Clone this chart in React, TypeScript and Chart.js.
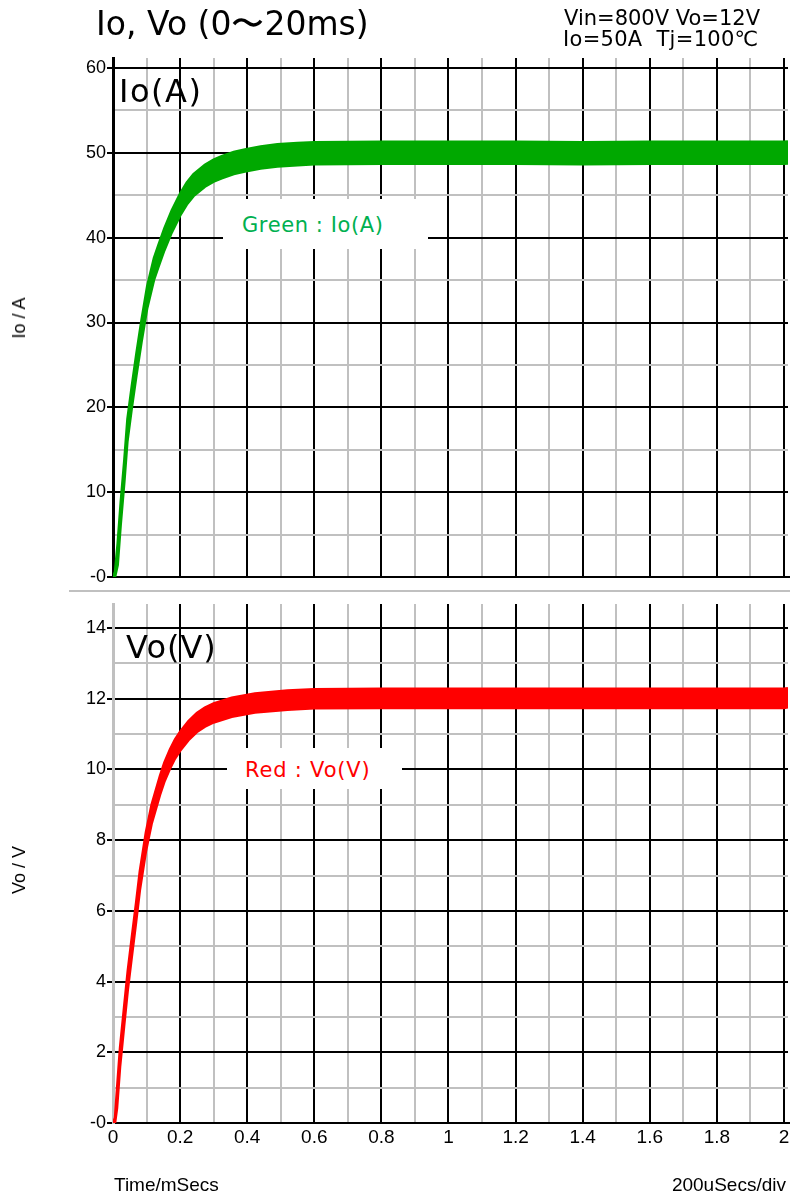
import React, { useEffect, useRef } from 'react';
import { Chart, registerables } from 'chart.js';

Chart.register(...registerables);

// ---------- data ----------
const xMajorValues = [0, 0.2, 0.4, 0.6, 0.8, 1.0, 1.2, 1.4, 1.6, 1.8, 2.0];
const xMajorLabels = ['0', '0.2', '0.4', '0.6', '0.8', '1', '1.2', '1.4', '1.6', '1.8', '2'];
const xMinorValues = [0.1, 0.3, 0.5, 0.7, 0.9, 1.1, 1.3, 1.5, 1.7, 1.9];

const ioMajorValues = [0, 10, 20, 30, 40, 50, 60];
const ioMajorLabels = ['-0', '10', '20', '30', '40', '50', '60'];
const ioMinorValues = [5, 15, 25, 35, 45, 55];

const voMajorValues = [0, 2, 4, 6, 8, 10, 12, 14];
const voMajorLabels = ['-0', '2', '4', '6', '8', '10', '12', '14'];
const voMinorValues = [1, 3, 5, 7, 9, 11, 13];

// Io (A): time in ms, upper / lower edges of the ripple band
const tIo = [0, 0.006, 0.014, 0.023, 0.034, 0.043, 0.056, 0.07, 0.085, 0.102, 0.122, 0.135, 0.153, 0.175, 0.2, 0.22, 0.24, 0.274, 0.3, 0.324, 0.36, 0.393, 0.44, 0.49, 0.55, 0.6, 0.8, 1.0, 1.2, 1.4, 1.6, 1.8, 2.0, 2.012];
const ioUpper = [0, 0.6, 4.0, 8.8, 13.9, 18.6, 22.5, 26.4, 30.3, 34.3, 37.6, 39.1, 41.1, 43.2, 45.2, 46.5, 47.5, 48.6, 49.2, 49.6, 50.1, 50.4, 50.75, 51.0, 51.15, 51.25, 51.3, 51.3, 51.3, 51.25, 51.3, 51.3, 51.3, 51.35];
const ioLower = [0, 0, 1.4, 6.2, 11.3, 16.0, 19.9, 23.8, 27.7, 31.7, 35.0, 36.5, 38.5, 40.6, 42.6, 43.9, 44.9, 46.0, 46.6, 47.0, 47.5, 47.8, 48.15, 48.4, 48.55, 48.65, 48.7, 48.7, 48.7, 48.65, 48.7, 48.7, 48.7, 48.75];

// Vo (V)
const tVo = [0, 0.006, 0.012, 0.021, 0.033, 0.044, 0.056, 0.069, 0.08, 0.098, 0.115, 0.14, 0.153, 0.17, 0.185, 0.2, 0.225, 0.25, 0.274, 0.3, 0.354, 0.423, 0.52, 0.6, 0.8, 1.0, 1.2, 1.4, 1.6, 1.8, 2.0, 2.012];
const voUpper = [0, 0.15, 0.96, 2.13, 3.27, 4.3, 5.24, 6.24, 7.12, 8.22, 9.0, 9.82, 10.19, 10.57, 10.85, 11.07, 11.37, 11.6, 11.75, 11.87, 12.03, 12.15, 12.23, 12.27, 12.28, 12.28, 12.28, 12.28, 12.28, 12.28, 12.28, 12.3];
const voLower = [0, 0, 0.42, 1.59, 2.73, 3.76, 4.7, 5.7, 6.58, 7.68, 8.46, 9.28, 9.65, 10.03, 10.31, 10.53, 10.83, 11.06, 11.21, 11.33, 11.49, 11.61, 11.69, 11.73, 11.74, 11.74, 11.74, 11.74, 11.74, 11.74, 11.74, 11.76];

const GREEN = '#00a800';
const RED = '#ff0000';
const GRID_MINOR = '#c0c0c0';
const TICK_FONT = 'Liberation Sans, Arial, sans-serif';
const TEXT_FONT = 'DejaVu Sans, Verdana, sans-serif';

function pts(t: number[], v: number[]) {
  return t.map((x, i) => ({ x, y: v[i] }));
}

function buildConfig(opts: {
  t: number[];
  upper: number[];
  lower: number[];
  color: string;
  yMax: number;
  major: number[];
  labels: string[];
  minor: number[];
  axisColor: string;
  showX: boolean;
  xHeight: number;
  padTop: number;
}): any {
  const allX = [...xMajorValues, ...xMinorValues].sort((a, b) => a - b);
  const allY = [...opts.major, ...opts.minor].sort((a, b) => a - b);
  return {
    type: 'line',
    data: {
      datasets: [
        {
          data: pts(opts.t, opts.upper),
          borderColor: opts.color,
          backgroundColor: opts.color,
          borderWidth: 2.5,
          pointRadius: 0,
          fill: '+1',
          tension: 0,
        },
        {
          data: pts(opts.t, opts.lower),
          borderColor: opts.color,
          backgroundColor: opts.color,
          borderWidth: 2.5,
          pointRadius: 0,
          fill: false,
          tension: 0,
        },
      ],
    },
    options: {
      responsive: false,
      animation: false,
      devicePixelRatio: 1,
      events: [],
      layout: { padding: { top: opts.padTop, right: 2, left: 0, bottom: 0 } },
      plugins: { legend: { display: false }, tooltip: { enabled: false }, title: { display: false } },
      scales: {
        x: {
          type: 'linear',
          min: 0,
          max: 2.012,
          afterBuildTicks: (s: any) => {
            s.ticks = allX.map((v) => ({ value: v }));
          },
          afterFit: (s: any) => {
            s.height = opts.xHeight;
            s.paddingLeft = 0;
            s.paddingRight = 0;
          },
          ticks: {
            display: opts.showX,
            autoSkip: false,
            maxRotation: 0,
            minRotation: 0,
            padding: 3,
            color: '#000',
            font: { family: TICK_FONT, size: 19 },
            callback: (v: number) => {
              const i = xMajorValues.indexOf(v);
              return i >= 0 ? xMajorLabels[i] : '';
            },
          },
          grid: {
            drawTicks: false,
            color: (ctx: any) => {
              const v = ctx.tick ? ctx.tick.value : -1;
              if (v === 0) return opts.axisColor;
              return xMajorValues.indexOf(v) >= 0 ? '#000' : GRID_MINOR;
            },
            lineWidth: (ctx: any) => (ctx.tick && ctx.tick.value === 0 ? 3 : 2),
          },
          border: { display: true, color: '#000', width: 2 },
        },
        y: {
          type: 'linear',
          min: 0,
          max: opts.yMax,
          afterBuildTicks: (s: any) => {
            s.ticks = allY.map((v) => ({ value: v }));
          },
          afterFit: (s: any) => {
            s.width = 113;
            s.paddingTop = 0;
            s.paddingBottom = 0;
          },
          ticks: {
            autoSkip: false,
            padding: 1,
            color: '#000',
            font: { family: TICK_FONT, size: 18 },
            callback: (v: number) => {
              const i = opts.major.indexOf(v);
              return i >= 0 ? opts.labels[i] : '';
            },
          },
          grid: {
            drawTicks: true,
            tickLength: 6,
            tickWidth: 2,
            tickColor: (ctx: any) =>
              ctx.tick && opts.major.indexOf(ctx.tick.value) >= 0 ? '#000' : 'rgba(0,0,0,0)',
            color: (ctx: any) =>
              ctx.tick && opts.major.indexOf(ctx.tick.value) >= 0 ? '#000' : GRID_MINOR,
            lineWidth: 2,
          },
          border: { display: true, color: opts.axisColor, width: 3 },
        },
      },
    },
  };
}

function abs(extra: React.CSSProperties): React.CSSProperties {
  return { position: 'absolute', whiteSpace: 'pre', lineHeight: 1, margin: 0, ...extra };
}

export default function App() {
  const topRef = useRef<HTMLCanvasElement | null>(null);
  const botRef = useRef<HTMLCanvasElement | null>(null);

  useEffect(() => {
    const c1 = new Chart(
      topRef.current as HTMLCanvasElement,
      buildConfig({
        t: tIo,
        upper: ioUpper,
        lower: ioLower,
        color: GREEN,
        yMax: 61.18,
        major: ioMajorValues,
        labels: ioMajorLabels,
        minor: ioMinorValues,
        axisColor: '#000',
        showX: false,
        xHeight: 13,
        padTop: 58,
      })
    );
    const c2 = new Chart(
      botRef.current as HTMLCanvasElement,
      buildConfig({
        t: tVo,
        upper: voUpper,
        lower: voLower,
        color: RED,
        yMax: 14.68,
        major: voMajorValues,
        labels: voMajorLabels,
        minor: voMinorValues,
        axisColor: GRID_MINOR,
        showX: true,
        xHeight: 70,
        padTop: 12,
      })
    );
    return () => {
      c1.destroy();
      c2.destroy();
    };
  }, []);

  return (
    <div
      style={{
        position: 'absolute',
        left: 0,
        top: 0,
        width: 790,
        height: 1193,
        background: '#fff',
        overflow: 'hidden',
      }}
    >
      <canvas ref={topRef} width={790} height={590} style={{ position: 'absolute', left: 0, top: 0 }} />
      <canvas ref={botRef} width={790} height={601} style={{ position: 'absolute', left: 0, top: 592 }} />

      <div style={abs({ left: 69, top: 590, width: 721, height: 2, background: GRID_MINOR })} />

      <div style={abs({ left: 96, top: 7, fontFamily: TEXT_FONT, fontSize: 33, color: '#000' })}>
        Io, Vo (0〜20ms)
      </div>
      <div style={abs({ left: 564, top: 8, fontFamily: TEXT_FONT, fontSize: 21, color: '#000' })}>
        Vin=800V Vo=12V
      </div>
      <div style={abs({ left: 563, top: 29, fontFamily: TEXT_FONT, fontSize: 21, color: '#000', letterSpacing: 0.3 })}>
        Io=50A  Tj=100℃
      </div>

      <div style={abs({ left: 119, top: 75, fontFamily: TEXT_FONT, fontSize: 32, color: '#000', letterSpacing: 1.5 })}>
        Io(A)
      </div>
      <div style={abs({ left: 126, top: 631, fontFamily: TEXT_FONT, fontSize: 32, color: '#000', letterSpacing: 1 })}>
        Vo(V)
      </div>

      <div style={abs({ left: 223, top: 199, width: 205, height: 50, background: '#fff' })} />
      <div style={abs({ left: 242, top: 215, fontFamily: TEXT_FONT, fontSize: 21, color: '#00b050', letterSpacing: 0.6 })}>
        Green : Io(A)
      </div>
      <div style={abs({ left: 227, top: 748, width: 175, height: 41, background: '#fff' })} />
      <div style={abs({ left: 245, top: 760, fontFamily: TEXT_FONT, fontSize: 21, color: RED, letterSpacing: 0.8 })}>
        Red : Vo(V)
      </div>

      <div
        style={abs({
          left: 18.5,
          top: 318,
          transform: 'translate(-50%, -50%) rotate(-90deg)',
          fontFamily: TICK_FONT,
          fontSize: 18,
          color: '#000',
        })}
      >
        Io / A
      </div>
      <div
        style={abs({
          left: 18.5,
          top: 870,
          transform: 'translate(-50%, -50%) rotate(-90deg)',
          fontFamily: TICK_FONT,
          fontSize: 18,
          color: '#000',
        })}
      >
        Vo / V
      </div>

      <div style={abs({ left: 114, top: 1175, fontFamily: TICK_FONT, fontSize: 19, color: '#000' })}>
        Time/mSecs
      </div>
      <div style={abs({ right: 4, top: 1175, fontFamily: TICK_FONT, fontSize: 19, color: '#000' })}>
        200uSecs/div
      </div>
    </div>
  );
}
